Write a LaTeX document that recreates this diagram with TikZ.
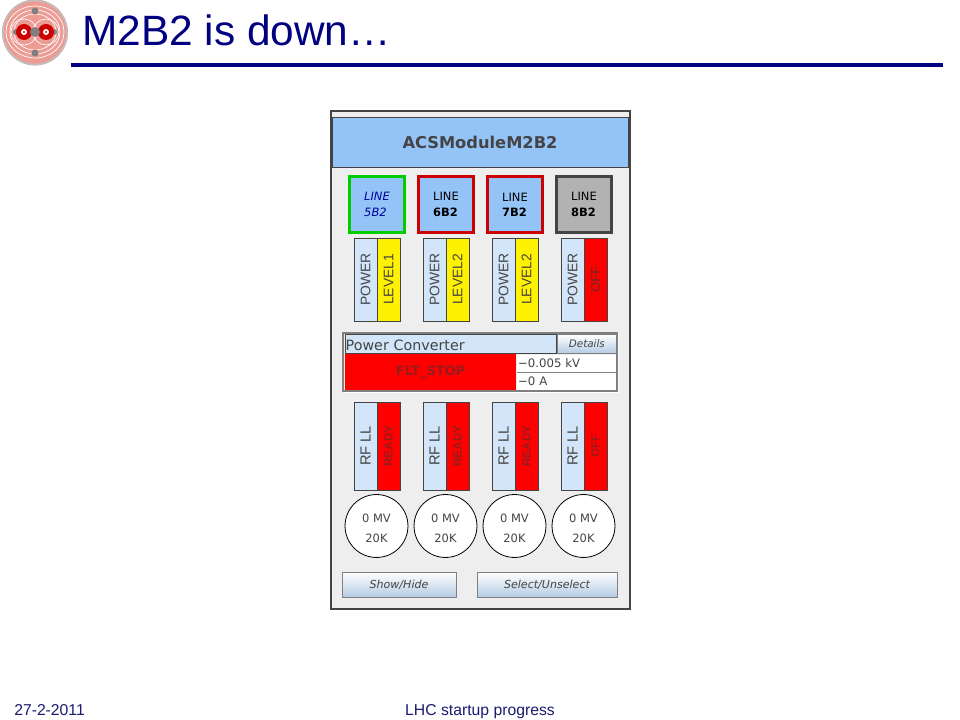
\documentclass[tikz,border=0pt]{standalone}
\usepackage{fontspec}
\setmainfont{Liberation Sans}
\newfontfamily\panelfont{DejaVu Sans}
\definecolor{titleblue}{HTML}{000080}
\definecolor{footblue}{HTML}{1A1A70}
\definecolor{panelgrey}{HTML}{EEEEEE}
\definecolor{edgegrey}{HTML}{444444}
\definecolor{headblue}{HTML}{94C3F8}
\definecolor{paleblue}{HTML}{D3E5F8}
\definecolor{buttonblue}{HTML}{B4CCE4}
\definecolor{dimred}{HTML}{961C1C}
\definecolor{logored}{HTML}{EC9C94}
\tikzset{
  linebox/.style={draw=#1,line width=2pt,fill=headblue,minimum width=41.6pt,minimum height=42.4pt,inner sep=0pt,font=\panelfont\fontsize{8.6}{11.5}\selectfont,align=left},
  labelbox/.style={draw=edgegrey,line width=0.7pt,fill=paleblue,text=edgegrey,inner sep=0pt,font=\fontsize{10.4}{12}\selectfont},
  statebox/.style={labelbox,fill=#1},
  valuebox/.style={draw=none,fill=white,text=edgegrey,anchor=west,inner sep=0pt,font=\panelfont\fontsize{8.8}{10}\selectfont,minimum width=74.2pt,minimum height=12.7pt,text width=73pt,align=left},
  tempdial/.style={circle,draw=black,line width=0.6pt,fill=white,minimum size=47.2pt,inner sep=0pt,align=center,text=edgegrey,font=\panelfont\fontsize{8.6}{15}\selectfont,yshift=0pt},
  pushbutton/.style={draw=gray,line width=0.6pt,top color=white,bottom color=buttonblue,inner sep=0pt,text=edgegrey,font=\panelfont\itshape\fontsize{8.3}{10}\selectfont}
}
\begin{document}
\begin{tikzpicture}[x=0.75pt,y=-0.75pt]
\useasboundingbox (0,0) rectangle (960,720);
% logo
\fill[logored] (35,32.5) circle [radius=33];
\draw[gray!50,line width=1.2pt] (35,32.5) circle [radius=32];
\draw[white,line width=0.5pt] (35,32) ellipse [x radius=29,y radius=26];
\draw[white,line width=0.5pt] (35,32) ellipse [x radius=25,y radius=22];
\draw[white,line width=0.5pt] (35,32) ellipse [x radius=21,y radius=18];
\draw[white,line width=0.5pt] (24,32) circle [radius=13];
\draw[white,line width=0.5pt] (46,32) circle [radius=13];
\fill[gray] (35,11) circle [radius=3.5];
\fill[gray] (35,53) circle [radius=3.5];
\fill[gray] (16,32) circle [radius=3];
\fill[gray] (54,32) circle [radius=3];
\fill[red!80!black] (24,32) circle [radius=8];
\fill[red!80!black] (46,32) circle [radius=8];
\fill[gray] (35,32) circle [radius=5];
\fill[white] (24,32) circle [radius=3];
\fill[white] (46,32) circle [radius=3];
\fill[red] (24,32) circle [radius=1.2];
\fill[red] (46,32) circle [radius=1.2];
% title
\node[anchor=base west,inner sep=0pt,text=titleblue,font=\fontsize{31.8}{36}\selectfont] (title) at (82,46) {M2B2 is down…};
\draw[titleblue,line width=2.3pt] (71,65) -- (943,65);
% panel
\draw[edgegrey,line width=0.8pt,fill=panelgrey] (331,111) rectangle (630,609);
\node[draw=edgegrey,line width=0.7pt,fill=headblue,text=edgegrey,minimum width=222pt,minimum height=36.8pt,inner sep=0pt,font=\panelfont\bfseries\fontsize{12.2}{14}\selectfont] (head) at (480,142.5) {ACSModuleM2B2};
% lines
\node[linebox=green!80!black,text=blue!60!black,font=\panelfont\itshape\fontsize{8.6}{11.5}\selectfont] (line5) at (377,204.5) {LINE\\5B2};
\node[linebox=red!80!black] (line6) at (446,204.5) {LINE\\\textbf{6B2}};
\node[linebox=red!80!black] (line7) at (515,204.5) {LINE\\\textbf{7B2}};
\node[linebox=edgegrey,fill=gray!60] (line8) at (584,204.5) {LINE\\\textbf{8B2}};
% power
\node[labelbox,rotate=90,minimum width=62.2pt,minimum height=17.2pt] (pow5) at (365.5,279.5) {POWER};
\node[statebox=yellow,rotate=90,minimum width=62.2pt,minimum height=17.2pt] (lev5) at (388.5,279.5) {LEVEL1};
\node[labelbox,rotate=90,minimum width=62.2pt,minimum height=17.2pt] (pow6) at (434.5,279.5) {POWER};
\node[statebox=yellow,rotate=90,minimum width=62.2pt,minimum height=17.2pt] (lev6) at (457.5,279.5) {LEVEL2};
\node[labelbox,rotate=90,minimum width=62.2pt,minimum height=17.2pt] (pow7) at (503.5,279.5) {POWER};
\node[statebox=yellow,rotate=90,minimum width=62.2pt,minimum height=17.2pt] (lev7) at (526.5,279.5) {LEVEL2};
\node[labelbox,rotate=90,minimum width=62.2pt,minimum height=17.2pt] (pow8) at (572.5,279.5) {POWER};
\node[statebox=red,rotate=90,text=dimred,minimum width=62.2pt,minimum height=17.2pt,font=\bfseries\fontsize{10}{10}\selectfont] (lev8) at (595.5,279.5) {OFF};
% power converter
\draw[white,line width=0.9pt] (618,333) -- (618,392) -- (343,392);
\draw[gray,line width=0.9pt] (343,392) -- (343,333) -- (618,333);
\draw[gray,line width=0.9pt] (344,391) -- (617,391) -- (617,333);
\node[draw=edgegrey,line width=0.5pt,fill=paleblue,text=edgegrey,anchor=north west,minimum width=158.2pt,minimum height=14.2pt,inner sep=0pt,font=\panelfont\fontsize{10.7}{11}\selectfont,text width=157.6pt,text height=10pt,align=left] (conv) at (345,334) {Power Converter};
\node[pushbutton,anchor=north west,minimum width=44.2pt,minimum height=14.2pt,font=\panelfont\itshape\fontsize{7.8}{10}\selectfont] (details) at (557,334) {Details};
\node[fill=red,text=dimred,anchor=north west,minimum width=128.2pt,minimum height=27pt,inner sep=0pt,font=\panelfont\bfseries\fontsize{9.8}{11}\selectfont] (fault) at (345,354) {FLT\_STOP};
\node[valuebox] (volt) at (517,363.5) {−0.005 kV};
\node[valuebox] (amp) at (517,381.5) {−0 A};
\draw[gray,line width=0.4pt] (volt.south west) -- (volt.south east);
% rf
\node[labelbox,rotate=90,minimum width=66pt,minimum height=17.2pt,font=\fontsize{11}{12}\selectfont] (rf5) at (365.5,446) {RF LL};
\node[statebox=red,rotate=90,text=dimred,minimum width=66pt,minimum height=17.2pt,font=\bfseries\fontsize{8.8}{10}\selectfont] (rdy5) at (388.5,446) {READY};
\node[labelbox,rotate=90,minimum width=66pt,minimum height=17.2pt,font=\fontsize{11}{12}\selectfont] (rf6) at (434.5,446) {RF LL};
\node[statebox=red,rotate=90,text=dimred,minimum width=66pt,minimum height=17.2pt,font=\bfseries\fontsize{8.8}{10}\selectfont] (rdy6) at (457.5,446) {READY};
\node[labelbox,rotate=90,minimum width=66pt,minimum height=17.2pt,font=\fontsize{11}{12}\selectfont] (rf7) at (503.5,446) {RF LL};
\node[statebox=red,rotate=90,text=dimred,minimum width=66pt,minimum height=17.2pt,font=\bfseries\fontsize{8.8}{10}\selectfont] (rdy7) at (526.5,446) {READY};
\node[labelbox,rotate=90,minimum width=66pt,minimum height=17.2pt,font=\fontsize{11}{12}\selectfont] (rf8) at (572.5,446) {RF LL};
\node[statebox=red,rotate=90,text=dimred,minimum width=66pt,minimum height=17.2pt,font=\bfseries\fontsize{8.5}{10}\selectfont] (off8) at (595.5,446) {OFF};
% dials
\node[tempdial] (dial5) at (376.5,526) {\rule{0pt}{10pt}0 MV\\20K};
\node[tempdial] (dial6) at (445.5,526) {\rule{0pt}{10pt}0 MV\\20K};
\node[tempdial] (dial7) at (514.5,526) {\rule{0pt}{10pt}0 MV\\20K};
\node[tempdial] (dial8) at (583.5,526) {\rule{0pt}{10pt}0 MV\\20K};
% buttons
\node[pushbutton,minimum width=85.5pt,minimum height=18.75pt] (show) at (399,584.5) {Show/Hide};
\node[pushbutton,minimum width=105pt,minimum height=18.75pt] (select) at (547,584.5) {Select/Unselect};
% footer
\node[anchor=base west,inner sep=0pt,text=footblue,font=\fontsize{11.8}{14}\selectfont] (date) at (14,715) {27-2-2011};
\node[anchor=base,inner sep=0pt,text=footblue,font=\fontsize{11.8}{14}\selectfont] (talk) at (480,715) {LHC startup progress};
\end{tikzpicture}
\end{document}
